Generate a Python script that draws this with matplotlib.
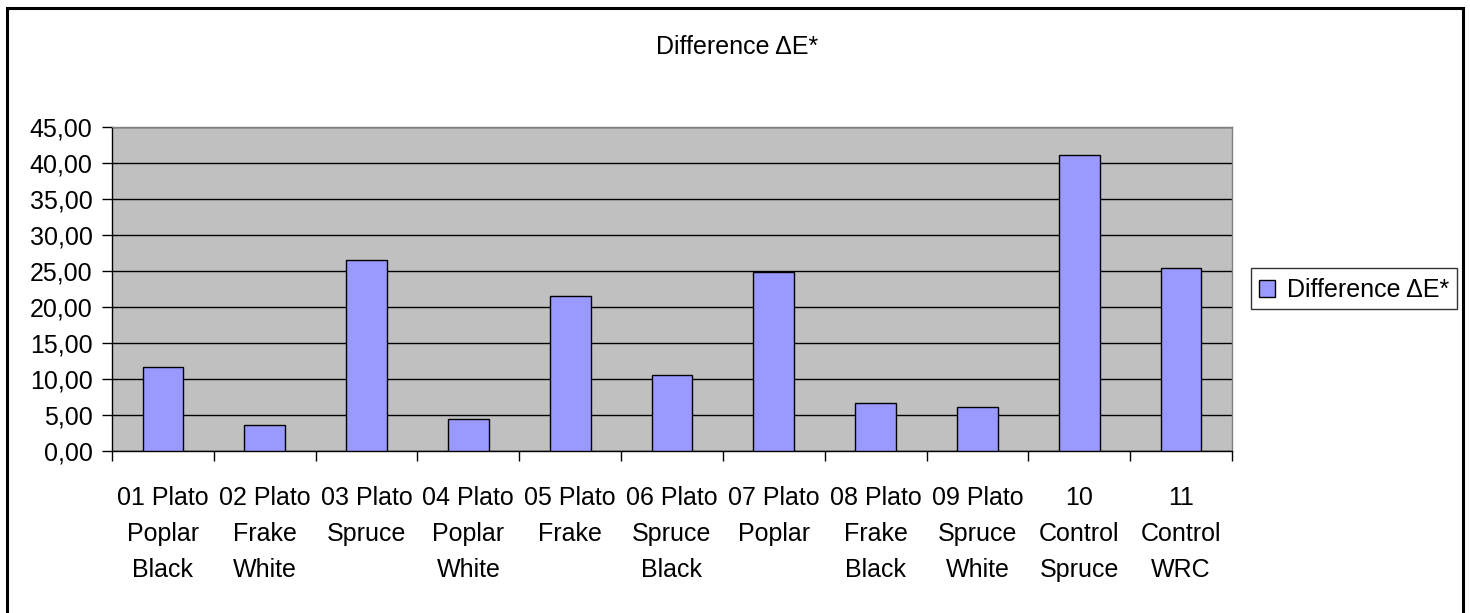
import matplotlib
matplotlib.use('Agg')
import matplotlib.pyplot as plt
from matplotlib.patches import Rectangle
from matplotlib.container import BarContainer
from matplotlib.legend_handler import HandlerPatch, update_from_first_child
from matplotlib.ticker import FuncFormatter, MultipleLocator
import numpy as np

plt.rcParams['font.family'] = ['Liberation Sans', 'DejaVu Sans']

# Samples and their colour difference values
samples = [
    '01 Plato\nPoplar\nBlack', '02 Plato\nFrake\nWhite', '03 Plato\nSpruce',
    '04 Plato\nPoplar\nWhite', '05 Plato\nFrake', '06 Plato\nSpruce\nBlack',
    '07 Plato\nPoplar', '08 Plato\nFrake\nBlack', '09 Plato\nSpruce\nWhite',
    '10\nControl\nSpruce', '11\nControl\nWRC',
]
delta_e = [11.7, 3.6, 26.5, 4.45, 21.5, 10.6, 24.8, 6.6, 6.1, 41.1, 25.4]
series_name = 'Difference ΔE*'

fs = 18
W, H = 1470, 613
fig = plt.figure(figsize=(W / 100, H / 100), dpi=100)
ax = fig.add_axes([112 / W, 1 - 451 / H, (1232 - 112) / W, (451 - 127) / H])

x = np.arange(len(samples))
ax.set_facecolor('#C0C0C0')
bars = ax.bar(x, delta_e, width=0.4, color='#9999FF', edgecolor='black',
              linewidth=1.0, zorder=3, label=series_name)

ax.set_ylim(0, 45)
ax.set_xlim(-0.5, len(samples) - 0.5)
ax.yaxis.set_major_locator(MultipleLocator(5))
ax.yaxis.set_major_formatter(FuncFormatter(lambda v, p: f'{v:.2f}'.replace('.', ',')))
ax.grid(axis='y', color='black', linewidth=1.0, zorder=1)
ax.set_axisbelow(True)

# category labels in the middle, tick marks on the boundaries
ax.set_xticks(x)
ax.set_xticklabels(samples, fontsize=fs, linespacing=1.65, va='top')
ax.set_xticks(np.arange(-0.5, len(samples)), minor=True)
ax.tick_params(axis='x', which='major', length=0, pad=25)
ax.tick_params(axis='x', which='minor', length=7.5, width=1.0, direction='out')
ax.tick_params(axis='y', labelsize=fs, length=7, width=1.0, direction='out', pad=7)

for side in ['top', 'right']:
    ax.spines[side].set_color('#808080')
    ax.spines[side].set_linewidth(1.0)
for side in ['left', 'bottom']:
    ax.spines[side].set_color('black')
    ax.spines[side].set_linewidth(1.0)

fig.text(737 / W, 1 - 47 / H, series_name, ha='center', va='center', fontsize=fs)


def small_square(legend, orig_handle, xdescent, ydescent, width, height, fontsize):
    # square key centred in a taller handle box
    side = width
    return Rectangle((-xdescent, -ydescent + (height - side) / 2), side, side)


leg = fig.legend(loc='center left', bbox_to_anchor=(1251 / W, 1 - 288.5 / H),
                 fontsize=fs, frameon=True, fancybox=False, shadow=False,
                 handlelength=0.65, handleheight=1.28, handletextpad=0.5,
                 borderpad=0.3, borderaxespad=0,
                 handler_map={BarContainer: HandlerPatch(patch_func=small_square,
                                                         update_func=update_from_first_child)})
leg.get_frame().set_edgecolor('black')
leg.get_frame().set_linewidth(1.0)

# outer chart border
fig.patches.append(Rectangle((7.5 / W, -0.05), (1463 - 7.5) / W, 1 - 7.5 / H + 0.05,
                             transform=fig.transFigure, fill=False,
                             edgecolor='black', linewidth=2.2))

fig.savefig('out.png', dpi=100)
